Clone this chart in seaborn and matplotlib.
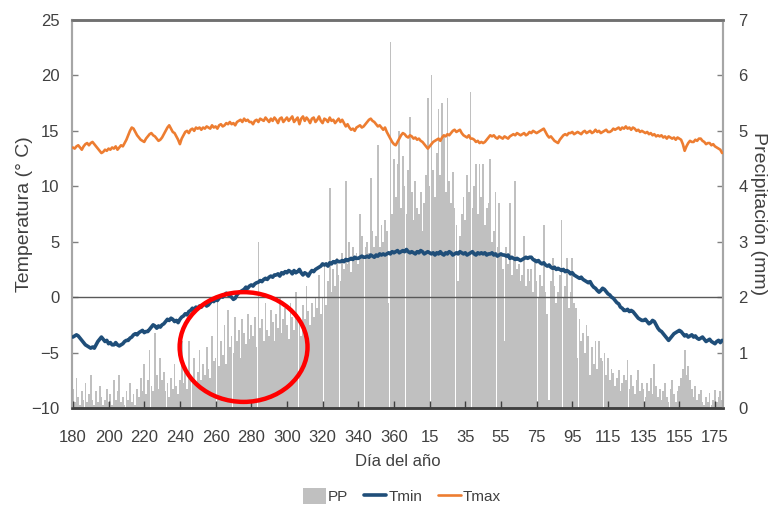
import numpy as np
import pandas as pd
import matplotlib
matplotlib.use("Agg")
import matplotlib.pyplot as plt
from matplotlib import font_manager
from matplotlib.patches import Ellipse, Patch
from matplotlib.lines import Line2D
import seaborn as sns

# ---------------- data ----------------
dias = list(range(180, 366)) + list(range(1, 180))

pp = [
    0.35, 0.1, 0.55, 0.2, 0.05, 0.3, 0.15, 0.45, 0.1, 0.25,
    0.6, 0.15, 0.05, 0.3, 0.1, 0.4, 0.2, 0.05, 0.15, 0.35,
    0.1, 0.25, 0.05, 0.5, 0.15, 0.3, 0.6, 0.1, 0.2, 0.05,
    0.3, 0.15, 0.45, 0.1, 0.25, 0.05, 0.35, 0.2, 0.55, 0.3,
    0.8, 0.25, 0.5, 1.05, 0.4, 0.3, 1.35, 0.6, 0.35, 0.9,
    0.5, 0.65, 0.3, 0.45, 0.2, 0.55, 0.35, 0.8, 0.4, 0.25,
    0.5, 1.2, 0.45, 0.7, 0.35, 1.2, 0.6, 0.5, 0.9, 0.4,
    0.65, 1.05, 0.5, 0.8, 0.6, 1.1, 0.7, 0.55, 1.3, 0.85,
    0.9, 1.95, 0.75, 1.2, 0.95, 1.5, 0.8, 1.77, 1.1, 1.3,
    1.0, 1.65, 1.2, 1.4, 0.9, 1.6, 1.35, 1.15, 1.7, 1.25,
    1.5, 1.3, 1.65, 1.1, 3.0, 1.45, 1.6, 1.2, 1.9, 1.4,
    1.3, 1.77, 1.55, 1.2, 1.7, 1.45, 2.0, 1.35, 1.6, 1.8,
    1.5, 1.25, 1.9, 1.65, 1.4, 2.1, 1.7, 1.55, 1.3, 1.85,
    1.6, 2.2, 1.75, 1.5, 1.9, 1.65, 2.0, 1.8, 2.4, 1.7,
    2.0, 2.6, 1.85, 2.3, 3.97, 2.1, 2.5, 2.2, 2.7, 2.4,
    2.3, 2.8, 2.5, 4.1, 2.6, 3.0, 2.45, 2.9, 2.7, 2.8,
    2.6, 3.5, 3.1, 2.7, 2.9, 3.0, 2.8, 4.15, 3.2, 2.9,
    3.1, 4.75, 2.9, 3.3, 3.0, 3.4, 3.2, 1.9, 6.6, 3.5,
    4.5, 3.8, 4.4, 5.0, 3.6, 4.55, 4.0, 3.5, 4.3, 5.25,
    3.9, 3.4, 4.1, 3.6, 3.5, 3.9, 3.2, 3.7, 4.2, 5.6,
    4.0, 6.0, 4.3, 3.8, 4.6, 5.4, 4.2, 5.5, 4.9, 3.9,
    5.6, 4.1, 3.7, 4.25, 3.6, 3.3, 2.3, 3.1, 3.5, 3.8,
    3.4, 4.2, 3.9, 5.7, 3.6, 4.0, 4.4, 3.5, 4.4, 3.8,
    4.4, 3.3, 3.6, 3.7, 4.5, 3.0, 3.2, 3.9, 2.9, 3.7,
    2.8, 2.5, 1.2, 2.9, 2.6, 3.7, 2.4, 2.7, 4.1, 2.5,
    2.6, 2.3, 2.4, 3.1, 2.2, 2.5, 2.3, 2.5, 2.1, 2.7,
    2.3, 2.0, 2.4, 2.2, 3.3, 2.1, 1.7, 0.15, 2.3, 2.7,
    2.2, 1.9, 2.1, 2.4, 3.4, 2.0, 2.2, 2.7, 1.8, 2.1,
    2.7, 1.9, 1.8, 0.9, 1.6, 1.2, 1.35, 1.0, 1.5, 1.3,
    0.6, 1.1, 0.8, 1.2, 0.7, 1.2, 0.9, 0.85, 1.0, 0.6,
    0.9, 0.5, 0.7, 0.63, 0.4, 0.55, 0.68, 0.3, 0.45, 0.6,
    0.5, 0.87, 0.35, 0.6, 0.4, 0.25, 0.5, 0.68, 0.3, 0.45,
    0.35, 0.2, 0.45, 0.3, 0.55, 0.25, 0.8, 0.4, 0.2, 0.35,
    0.15, 0.3, 0.45, 0.2, 0.1, 0.35, 0.5, 0.25, 0.1, 0.3,
    0.4, 0.55, 0.7, 1.05, 0.6, 0.75, 0.5, 0.35, 0.2, 0.4,
    0.15, 0.25, 0.33, 0.1, 0.05, 0.2, 0.1, 0.27, 0.05, 0.15,
    0.33, 0.1, 0.2, 0.3, 0.15,
]

tmin = [
    -3.6, -3.5, -3.4, -3.5, -3.7, -3.9, -4.1, -4.3, -4.4, -4.5,
    -4.6, -4.5, -4.6, -4.3, -4.0, -3.8, -3.6, -3.8, -4.0, -3.9,
    -4.2, -4.1, -4.3, -4.3, -4.1, -4.3, -4.4, -4.3, -4.2, -4.0,
    -3.9, -3.9, -3.7, -3.6, -3.4, -3.3, -3.4, -3.2, -3.1, -3.0,
    -3.2, -3.1, -3.1, -2.9, -2.7, -2.5, -2.6, -2.8, -2.6, -2.7,
    -2.5, -2.4, -2.2, -2.0, -2.1, -1.9, -2.0, -2.2, -2.1, -2.3,
    -2.0, -1.8, -1.7, -1.5, -1.6, -1.3, -1.2, -1.0, -1.1, -0.9,
    -1.0, -0.8, -0.9, -0.7, -0.6, -0.8, -0.7, -0.5, -0.3, -0.4,
    -0.2, -0.3, -0.1, 0.1, 0.0, 0.2, 0.35, 0.2, 0.1, 0.0,
    -0.2, -0.1, 0.2, 0.4, 0.5, 0.6, 0.7, 0.9, 0.8, 1.0,
    1.1, 1.0, 1.2, 1.3, 1.35, 1.5, 1.4, 1.6, 1.7, 1.6,
    1.8, 1.9, 1.8, 2.0, 2.0, 2.1, 1.9, 2.2, 2.1, 2.3,
    2.2, 2.4, 2.3, 2.1, 2.4, 2.2, 2.3, 2.5, 2.2, 2.0,
    2.2, 2.1, 1.9, 2.2, 2.4, 2.3, 2.5, 2.6, 2.7, 2.8,
    3.0, 2.9, 3.0, 2.8, 3.1, 3.0, 3.2, 3.1, 3.3, 3.2,
    3.2, 3.3, 3.2, 3.4, 3.3, 3.4, 3.5, 3.4, 3.6, 3.5,
    3.5, 3.6, 3.7, 3.6, 3.6, 3.7, 3.6, 3.8, 3.7, 3.6,
    3.8, 3.7, 3.9, 3.8, 3.9, 3.8, 3.9, 4.0, 3.9, 4.1,
    4.0, 4.1, 4.2, 4.0, 4.1, 4.2, 4.1, 4.3, 4.1, 4.0,
    4.1, 4.0, 3.9, 4.1, 4.0, 4.2, 4.1, 3.9, 4.0, 4.1,
    4.0, 3.9, 4.0, 3.8, 4.0, 3.9, 4.1, 3.9, 3.8, 4.0,
    3.9, 4.1, 4.0, 3.8, 3.9, 4.0, 3.9, 4.1, 4.0, 3.9,
    4.0, 3.8, 3.9, 4.0, 4.1, 3.9, 3.8, 4.0, 3.9, 4.0,
    3.9, 4.0, 3.8, 3.9, 3.9, 4.0, 3.8, 3.9, 3.7, 3.8,
    3.9, 3.8, 3.8, 3.7, 3.8, 3.5, 3.6, 3.5, 3.4, 3.5,
    3.4, 3.3, 3.4, 3.5, 3.6, 3.5, 3.6, 3.6, 3.4, 3.3,
    3.2, 3.3, 3.1, 3.0, 3.1, 2.9, 2.8, 2.9, 2.7, 2.6,
    2.7, 2.5, 2.6, 2.5, 2.4, 2.5, 2.3, 2.4, 2.3, 2.1,
    2.2, 2.0, 1.9, 1.8, 1.7, 1.8, 1.6, 1.5, 1.4, 1.3,
    1.4, 1.1, 0.9, 0.8, 0.6, 0.45, 0.6, 0.8, 0.7, 0.5,
    0.3, 0.2, 0.0, -0.1, -0.3, -0.5, -0.6, -0.9, -1.0, -1.2,
    -1.2, -1.1, -1.3, -1.2, -1.3, -1.5, -1.7, -1.9, -2.0, -2.1,
    -2.1, -2.0, -2.2, -2.4, -2.3, -2.1, -2.2, -2.5, -2.8, -3.0,
    -3.1, -3.3, -3.5, -3.7, -3.9, -3.7, -3.5, -3.3, -3.2, -3.1,
    -3.0, -3.1, -3.3, -3.5, -3.4, -3.6, -3.5, -3.4, -3.6, -3.5,
    -3.7, -3.8, -3.7, -3.6, -3.8, -4.0, -3.9, -3.8, -4.0, -4.1,
    -4.2, -4.0, -3.9, -4.1, -3.9,
]

tmax = [
    13.5, 13.4, 13.6, 13.7, 13.5, 13.3, 13.6, 13.8, 13.9, 13.7,
    13.9, 14.0, 13.8, 13.6, 13.4, 13.2, 13.0, 13.1, 13.3, 13.2,
    13.4, 13.3, 13.5, 13.4, 13.6, 13.3, 13.5, 13.7, 13.6, 13.9,
    14.2, 14.6, 15.0, 15.3, 15.2, 14.9, 14.6, 14.4, 14.2, 14.1,
    14.0, 14.3, 14.5, 14.7, 14.8, 14.6, 14.5, 14.3, 14.1, 14.2,
    14.4, 14.7, 15.0, 15.3, 15.5, 15.2, 14.9, 14.8, 14.5, 14.2,
    13.8, 14.3, 14.6, 14.9, 15.0, 14.8, 15.1, 15.2, 15.0, 15.3,
    15.2, 15.3, 15.1, 15.3, 15.2, 15.4, 15.3, 15.2, 15.5, 15.3,
    15.4, 15.2, 15.5, 15.6, 15.4, 15.5, 15.7, 15.6, 15.8, 15.6,
    15.7, 15.5, 15.8, 15.9, 16.0, 15.8, 16.1, 15.9, 16.0, 15.8,
    15.8, 15.6, 15.9, 16.0, 15.8, 16.1, 16.0, 15.9, 16.2, 16.0,
    15.8, 16.1, 15.9, 16.2, 16.0, 15.7, 16.1, 16.2, 15.8, 16.0,
    16.2, 15.9, 16.1, 16.3, 15.8, 16.0, 16.2, 15.6, 16.1, 16.3,
    15.9, 16.2, 16.0, 15.7, 16.1, 16.2, 15.8, 16.0, 16.3, 15.9,
    15.7, 16.1, 16.0, 15.8, 16.2, 15.9, 16.0, 15.7, 15.9, 16.1,
    15.8, 16.0, 15.7, 15.4, 15.6, 15.3, 15.1, 15.2, 15.0, 15.3,
    15.4, 15.5, 15.3, 15.4, 15.6, 15.8, 16.0, 16.1, 15.9, 15.8,
    15.6, 15.4, 15.5, 15.3, 15.1, 15.3, 14.9, 14.6, 14.3, 14.0,
    13.8, 13.7, 14.0, 14.3, 14.6, 14.8, 14.7, 14.5, 14.4, 14.6,
    14.5, 14.3, 14.4, 14.2, 14.3, 14.1, 14.0, 13.8, 13.6, 13.4,
    13.6, 13.8, 14.0, 14.1, 14.2, 14.3, 14.1, 14.4, 14.6, 14.5,
    14.7, 14.6, 14.8, 15.0, 15.1, 14.9, 15.0, 15.1, 14.8, 14.6,
    14.5, 14.4, 14.6, 14.3, 14.3, 14.2, 14.0, 14.1, 13.9, 14.0,
    13.9, 14.0, 14.2, 14.4, 14.6, 14.5, 14.6, 14.4, 14.3, 14.5,
    14.4, 14.3, 14.5, 14.4, 14.3, 14.5, 14.6, 14.7, 14.6, 14.8,
    14.7, 14.6, 14.7, 14.8, 14.6, 14.7, 14.9, 14.8, 15.0, 14.9,
    14.8, 14.9, 15.0, 15.1, 15.2, 14.9, 14.6, 14.4, 14.5, 14.3,
    14.1, 14.0, 13.9, 14.2, 14.4, 14.6, 14.7, 14.6, 14.8, 14.8,
    14.9, 14.7, 14.8, 14.9, 14.8, 14.7, 14.9, 15.0, 14.8, 14.9,
    15.0, 14.8, 14.9, 15.1, 14.9, 15.0, 14.8, 14.9, 15.0, 15.1,
    14.9, 14.9, 15.0, 15.2, 15.1, 15.2, 15.3, 15.1, 15.3, 15.2,
    15.4, 15.2, 15.3, 15.1, 15.3, 15.2, 15.0, 15.1, 14.9, 15.0,
    14.9, 14.8, 14.9, 14.7, 14.8, 14.6, 14.7, 14.5, 14.6, 14.5,
    14.6, 14.4, 14.5, 14.3, 14.5, 14.4, 14.3, 14.4, 14.2, 14.4,
    14.3, 14.2, 13.8, 13.2, 13.6, 13.9, 14.1, 14.0, 14.0, 14.2,
    14.1, 14.3, 14.3, 14.1, 14.0, 13.8, 13.9, 13.9, 13.7, 13.8,
    13.6, 13.5, 13.4, 13.3, 13.0,
]

tick_labels = ["180", "200", "220", "240", "260", "280", "300", "320", "340",
               "360", "15", "35", "55", "75", "95", "115", "135", "155", "175"]

assert len(dias) == len(pp) == len(tmin) == len(tmax) == 365

# ---------------- style ----------------
sns.set_style("white")
avail = {f.name for f in font_manager.fontManager.ttflist}
if "Liberation Sans Narrow" in avail:
    fam = ["Liberation Sans Narrow", "DejaVu Sans"]
    fs = 13
else:
    fam = ["Liberation Sans", "DejaVu Sans"]
    fs = 12
plt.rcParams["font.family"] = fam

txt_col = "#404040"
C_PP = "#c0c0c0"
C_TMIN = "#1f4e79"
C_TMAX = "#ed7d31"

df = pd.DataFrame({"pos": np.arange(len(dias)), "dia": dias,
                   "PP": pp, "Tmin": tmin, "Tmax": tmax})

fig = plt.figure(figsize=(7.69, 5.08), dpi=100)
ax = fig.add_axes([72 / 769, 1 - 408 / 508, (723 - 72) / 769, (408 - 20) / 508])
ax2 = ax.twinx()

# bars on right axis (precipitation)
sns.barplot(data=df, x="pos", y="PP", ax=ax2, color=C_PP, saturation=1,
            width=0.96, errorbar=None, native_scale=True, linewidth=0)

# lines on left axis (temperature)
ax.axhline(0, color="#595959", lw=1.0, zorder=1)
sns.lineplot(data=df, x="pos", y="Tmin", ax=ax, color=C_TMIN, lw=2.6, zorder=3)
sns.lineplot(data=df, x="pos", y="Tmax", ax=ax, color=C_TMAX, lw=1.9, zorder=3)

ax.set_zorder(ax2.get_zorder() + 1)
ax.patch.set_visible(False)
ax2.patch.set_visible(True)
ax2.patch.set_facecolor("white")

ax.set_xlim(-0.5, 364.5)
ax.set_ylim(-10, 25)
ax2.set_ylim(0, 7)
ax.set_xticks(range(0, 361, 20))
ax.set_xticklabels(tick_labels)
ax.set_yticks(range(-10, 26, 5))
ax2.set_yticks(range(0, 8))

ax.tick_params(axis="x", direction="in", length=5, width=1, color="#404040",
               labelsize=fs, labelcolor=txt_col, pad=16, bottom=True)
ax.tick_params(axis="y", direction="in", length=4, width=1, color="#808080",
               labelsize=fs, labelcolor=txt_col, pad=9, left=True)
ax2.tick_params(axis="y", direction="in", length=4, width=1, color="#808080",
                labelsize=fs, labelcolor=txt_col, pad=11, right=True)

ax.set_xlabel("Día del año", fontsize=fs, color=txt_col, labelpad=6)
ax.set_ylabel("Temperatura (° C)", fontsize=fs + 2, color=txt_col,
              va="center", ha="center")
ax.yaxis.set_label_coords((25 - 72) / 651, 0.5)
ax2.set_ylabel("Precipitación (mm)", fontsize=fs + 2, color=txt_col,
               rotation=270, va="center", ha="center")
ax2.yaxis.set_label_coords((759 - 72) / 651, 0.5)

for a in (ax, ax2):
    a.spines["top"].set_color("#707070")
    a.spines["top"].set_linewidth(1.8)
    a.spines["bottom"].set_color("#404040")
    a.spines["bottom"].set_linewidth(1.8)
    a.spines["left"].set_color("#a6a6a6")
    a.spines["left"].set_linewidth(1.5)
    a.spines["right"].set_color("#a6a6a6")
    a.spines["right"].set_linewidth(1.5)

# legend
handles = [Patch(facecolor=C_PP, edgecolor="none"),
           Line2D([], [], color=C_TMIN, lw=2.6),
           Line2D([], [], color=C_TMAX, lw=1.9)]
fig.legend(handles, ["PP", "Tmin", "Tmax"], loc="center",
           bbox_to_anchor=(402 / 769, 1 - 496 / 508), ncol=3, frameon=False,
           fontsize=fs - 1, labelcolor=txt_col, handlelength=1.5,
           handletextpad=0.15, columnspacing=1.0, handleheight=1.2)

# red highlight ellipse (annotation)
ell = Ellipse((95.7, -4.5), width=71.7, height=9.9, fill=False,
              edgecolor="#ff0000", lw=3.2, zorder=10, clip_on=False)
ax.add_patch(ell)

fig.savefig("out.png", dpi=100, facecolor="white")
